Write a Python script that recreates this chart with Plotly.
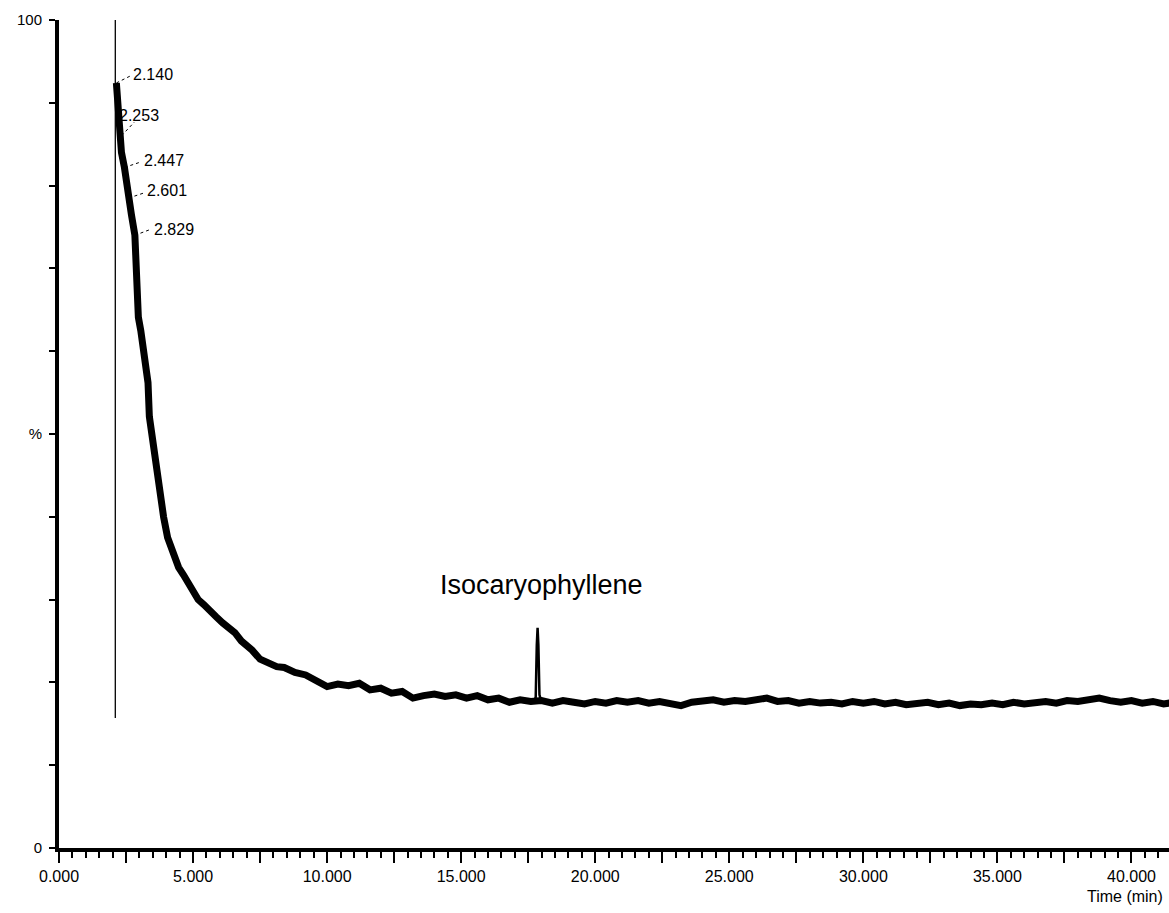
import plotly.graph_objects as go

# ---------------- data ----------------
time_min = [2.14, 2.18, 2.25, 2.33, 2.44, 2.52, 2.61, 2.70, 2.83, 2.89, 2.96, 3.05,
            3.17, 3.25, 3.32, 3.37, 3.44, 3.51, 3.58, 3.66, 3.78, 3.90, 4.05, 4.20,
            4.33, 4.46, 4.64, 4.82, 5.00, 5.19, 5.40, 5.62, 5.87, 6.10, 6.33, 6.56,
            6.80, 7.00, 7.20, 7.50, 7.80, 8.12,
            8.4, 8.8, 9.2, 9.6, 10.0, 10.4, 10.8, 11.2, 11.6, 12.0, 12.4, 12.8,
            13.2, 13.6, 14.0, 14.4, 14.8, 15.2, 15.6, 16.0, 16.4, 16.8, 17.2, 17.6,
            18.0, 18.4, 18.8, 19.2, 19.6, 20.0, 20.4, 20.8, 21.2, 21.6, 22.0, 22.4,
            22.8, 23.2, 23.6, 24.0, 24.4, 24.8, 25.2, 25.6, 26.0, 26.4, 26.8, 27.2,
            27.6, 28.0, 28.4, 28.8, 29.2, 29.6, 30.0, 30.4, 30.8, 31.2, 31.6, 32.0,
            32.4, 32.8, 33.2, 33.6, 34.0, 34.4, 34.8, 35.2, 35.6, 36.0, 36.4, 36.8,
            37.2, 37.6, 38.0, 38.4, 38.8, 39.2, 39.6, 40.0, 40.4, 40.8, 41.2, 41.6]
signal_pct = [92.4, 90.0, 85.5, 84.0, 82.2, 80.8, 78.5, 76.5, 74.0, 68.2, 64.1, 62.5,
              60.1, 58.0, 56.2, 52.1, 50.5, 48.1, 46.5, 44.1, 42.0, 40.0, 37.5, 36.0,
              34.6, 33.9, 33.0, 32.0, 31.3, 30.0, 29.4, 28.6, 27.9, 27.2, 26.6, 26.0,
              25.0, 24.5, 23.9, 22.8, 22.3, 21.9,
              21.8, 21.2, 20.9, 20.2, 19.5, 19.8, 19.6, 19.9, 19.1, 19.3, 18.7, 18.9,
              18.1, 18.4, 18.6, 18.3, 18.5, 18.1, 18.4, 17.9, 18.1, 17.6, 17.9, 17.7,
              17.8, 17.5, 17.8, 17.6, 17.4, 17.7, 17.5, 17.8, 17.6, 17.8, 17.5, 17.7,
              17.4, 17.2, 17.6, 17.7, 17.9, 17.6, 17.8, 17.7, 17.9, 18.1, 17.7, 17.8,
              17.5, 17.7, 17.5, 17.6, 17.4, 17.7, 17.5, 17.7, 17.4, 17.6, 17.3, 17.5,
              17.6, 17.3, 17.5, 17.2, 17.4, 17.3, 17.5, 17.3, 17.6, 17.4, 17.6, 17.7,
              17.5, 17.8, 17.7, 18.0, 18.1, 17.8, 17.6, 17.8, 17.5, 17.7, 17.4, 17.6]

peak_time = [17.70, 17.78, 17.82, 17.85, 17.88, 17.92, 17.98]
peak_pct = [17.6, 18.2, 24.5, 26.6, 24.5, 18.5, 17.8]

solvent_time = [2.10, 2.10]
solvent_pct = [15.7, 100.0]

label_times = [2.140, 2.253, 2.447, 2.601, 2.829]
label_pct = [92.4, 85.5, 82.2, 78.5, 74.0]
label_text = ["2.140", "2.253", "2.447", "2.601", "2.829"]

compound_name = "Isocaryophyllene"
compound_time = 17.85
compound_pct = 26.6

ytick_vals = [0, 10, 20, 30, 40, 50, 60, 70, 80, 90, 100]
ytick_text = ["0", "", "", "", "", "%", "", "", "", "", "100"]
xtick_vals = [0, 2.5, 5, 7.5, 10, 12.5, 15, 17.5, 20, 22.5, 25, 27.5, 30, 32.5, 35, 37.5, 40]
xtick_text = ["0.000", "", "5.000", "", "10.000", "", "15.000", "", "20.000", "",
              "25.000", "", "30.000", "", "35.000", "", "40.000"]
x_title = "Time (min)"

# ---------------- layout helpers (pixel offsets, not data) ----------------
leader_px = [(0, 0, 14, 7), (-2, 0, 15, 18), (0, 0, 15, 5), (0, 0, 15, 5), (0, 0, 16, 6)]
text_shift = [(15, 8), (-2, 25), (17, 7), (16, 8), (17, 6)]

FONT = "Liberation Sans, Arial, sans-serif"

fig = go.Figure()
fig.add_trace(go.Scatter(x=solvent_time, y=solvent_pct, mode="lines",
                         line=dict(color="black", width=1.3), hoverinfo="skip"))
fig.add_trace(go.Scatter(x=time_min, y=signal_pct, mode="lines",
                         line=dict(color="black", width=7), hoverinfo="skip"))
fig.add_trace(go.Scatter(x=peak_time, y=peak_pct, mode="lines",
                         line=dict(color="black", width=2.5), hoverinfo="skip"))

for t, p, txt, (x0, y0, x1, y1), (xs, ys) in zip(label_times, label_pct, label_text,
                                                 leader_px, text_shift):
    fig.add_shape(type="line", xref="x", yref="y", xsizemode="pixel", ysizemode="pixel",
                  xanchor=t, yanchor=p, x0=x0, y0=y0, x1=x1, y1=y1,
                  line=dict(color="black", width=1, dash="dot"))
    fig.add_annotation(x=t, y=p, text=txt, showarrow=False, xanchor="left",
                       yanchor="middle", xshift=xs, yshift=ys,
                       font=dict(family=FONT, size=16, color="black"))

fig.add_annotation(x=compound_time, y=compound_pct, text=compound_name, showarrow=False,
                   xanchor="center", yanchor="middle", xshift=4, yshift=43,
                   font=dict(family=FONT, size=27, color="black"))

fig.add_annotation(x=1, y=-0.059, xref="paper", yref="paper", text=x_title,
                   showarrow=False, xanchor="right", yanchor="middle", xshift=-4,
                   font=dict(family=FONT, size=16, color="black"))

fig.update_layout(
    width=1169, height=913,
    margin=dict(l=59, r=0, t=20, b=65),
    paper_bgcolor="white", plot_bgcolor="white",
    showlegend=False,
    font=dict(family=FONT, size=16, color="black"),
    xaxis=dict(range=[0, 41.4], showgrid=False, zeroline=False,
               showline=True, linecolor="black", linewidth=4,
               tickmode="array", tickvals=xtick_vals, ticktext=xtick_text,
               ticks="outside", ticklen=11, tickwidth=2, tickcolor="black",
               ticklabelstandoff=0,
               tickfont=dict(family=FONT, size=16, color="black"),
               minor=dict(dtick=0.5, ticks="outside", ticklen=6, tickwidth=2,
                          tickcolor="black", showgrid=False)),
    yaxis=dict(range=[0, 100], showgrid=False, zeroline=False,
               showline=True, linecolor="black", linewidth=4,
               tickmode="array", tickvals=ytick_vals, ticktext=ytick_text,
               ticks="outside", ticklen=6, tickwidth=2, tickcolor="black",
               ticklabelstandoff=4,
               tickfont=dict(family=FONT, size=15, color="black")),
)

fig.write_html("out.html", config={"displayModeBar": False})
